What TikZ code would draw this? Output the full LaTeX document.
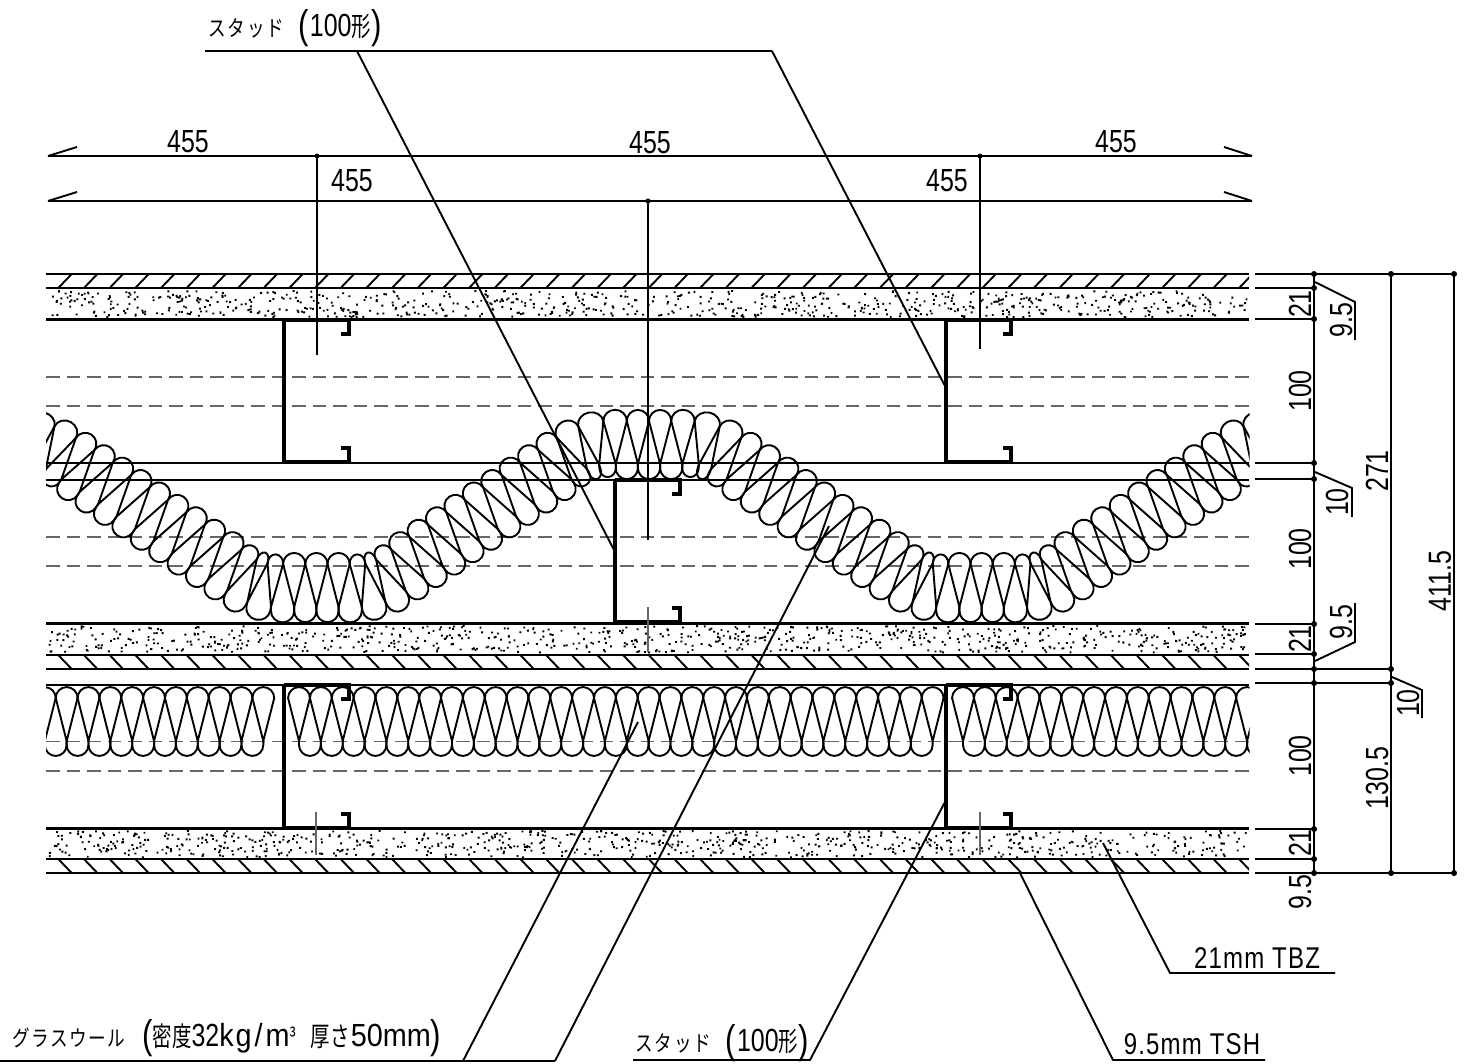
\documentclass[tikz,border=0pt]{standalone}
\usepackage{fontspec}
\newfontfamily\latf[FakeStretch=0.78]{Liberation Sans}
\newfontfamily\latw[FakeStretch=0.8,LetterSpace=4]{Liberation Sans}
\newfontfamily\latv[FakeStretch=0.9]{Liberation Sans}
\newfontfamily\jpf[FakeStretch=0.8]{Noto Sans CJK JP}
\newfontfamily\jpn[FakeStretch=0.72]{Noto Sans CJK JP}
\usetikzlibrary{calc}
\newcommand\kt[1]{{\jpf\fontsize{22}{22}\selectfont #1}}
\newcommand\kj[1]{{\jpn\fontsize{27}{27}\selectfont #1}}
\newcommand\pn[1]{{\latf\fontsize{40}{40}\selectfont\raisebox{-2pt}{#1}}}
\def\aT{24}\def\aB{19}
\newcommand\gv[1]{\csname #1\endcsname}
% #1 #2 start, #3 #4 end, #5 +1 for the upper side, -1 for the lower side,
% #6 offset, #7 side flare, #8 side rise, #9 apex height (control length = \lk)
\newcommand\lobe[9]{%
 \pgfmathsetmacro\Ldx{#3-(#1)}\pgfmathsetmacro\Ldy{#4-(#2)}
 \pgfmathsetmacro\Ll{sqrt(\Ldx*\Ldx+\Ldy*\Ldy)}
 \pgfmathsetmacro\sc{\Ll/21.85}
 \pgfmathsetmacro\sh{max(min(\sc,1.03),0.85)}
 \pgfmathsetmacro\ux{\Ldx/\Ll}\pgfmathsetmacro\uy{\Ldy/\Ll}
 \pgfmathsetmacro\nx{#5*\uy}\pgfmathsetmacro\ny{-#5*\ux}
 \pgfmathsetmacro\Ax{#1+\sh*#6*\nx}\pgfmathsetmacro\Ay{#2+\sh*#6*\ny}
 \pgfmathsetmacro\Bx{#3+\sh*#6*\nx}\pgfmathsetmacro\By{#4+\sh*#6*\ny}
 \pgfmathsetmacro\Mx{(#1+#3)/2+\sh*#9*\nx}\pgfmathsetmacro\My{(#2+#4)/2+\sh*#9*\ny}
 \pgfmathsetmacro\cax{\Ax+\sh*#8*\nx}\pgfmathsetmacro\cay{\Ay+\sh*#8*\ny}
 \pgfmathsetmacro\cbx{\Mx-\sc*\lk*\ux}\pgfmathsetmacro\cby{\My-\sc*\lk*\uy}
 \pgfmathsetmacro\ccx{\Mx+\sc*\lk*\ux}\pgfmathsetmacro\ccy{\My+\sc*\lk*\uy}
 \pgfmathsetmacro\cdx{\Bx+\sh*#8*\nx}\pgfmathsetmacro\cdy{\By+\sh*#8*\ny}
 \draw[batt] (#1,#2) -- (\Ax,\Ay) .. controls (\cax,\cay) and (\cbx,\cby) .. (\Mx,\My)
   .. controls (\ccx,\ccy) and (\cdx,\cdy) .. (\Bx,\By) -- (#3,#4);
}
\newcommand\toplobe[4]{\def\lk{6.03}\lobe{#1}{#2}{#3}{#4}{1}{0}{0}{6.03}{10.925}}
\newcommand\botlobe[4]{\def\lk{6.03}\lobe{#1}{#2}{#3}{#4}{-1}{4}{0}{6.03}{14.925}}
\newcommand\wavehalf{%
 \foreach \k [evaluate=\k as \a using int(\k+1), evaluate=\k as \b using int(\k+2), evaluate=\k as \c using int(\k+3)] in {0,2,...,66}{
  \pgfmathsetmacro\tax{\gv{cx\k}+\aT*\gv{sn\k}}
  \pgfmathsetmacro\tay{\gv{cy\k}-\aT*\gv{cn\k}}
  \pgfmathsetmacro\tbx{\gv{cx\b}+\aT*\gv{sn\b}}
  \pgfmathsetmacro\tby{\gv{cy\b}-\aT*\gv{cn\b}}
  \pgfmathsetmacro\bax{\gv{cx\a}-\aB*\gv{sn\a}}
  \pgfmathsetmacro\bay{\gv{cy\a}+\aB*\gv{cn\a}}
  \pgfmathsetmacro\bbx{\gv{cx\c}-\aB*\gv{sn\c}}
  \pgfmathsetmacro\bby{\gv{cy\c}+\aB*\gv{cn\c}}
  \draw[batt] (\tax,\tay) -- (\bax,\bay) -- (\tbx,\tby);
  \toplobe{\tax}{\tay}{\tbx}{\tby}
  \botlobe{\bax}{\bay}{\bbx}{\bby}
 }}
\newcommand\battrow[3]{% first tip x, step, last index
 \foreach \j in {0,...,#3}{
  \pgfmathsetmacro\tx{#1+#2*\j}
  \pgfmathsetmacro\lx{\tx-10.925}\pgfmathsetmacro\rx{\tx+10.925}
  \draw[batt] (\lx,698) -- (\tx,741) -- (\rx,698);
  \toplobe{\lx}{698}{\rx}{698}
  \ifnum\j<#3
   \pgfmathsetmacro\wnx{\tx+#2}
   \pgfmathsetmacro\wlo{min(\tx,\wnx)}\pgfmathsetmacro\whi{max(\tx,\wnx)}
   \botlobe{\wlo}{741}{\whi}{741}
  \fi
 }}
\newcommand\studdown[3]{% web x, top y, bottom y
 \draw[stud] (#1,#2) -- (#1,#3);
 \draw[stud] (#1,#2) -- ({#1+65},#2) -- ({#1+65},{#2+14}) -- ({#1+57},{#2+14});
 \draw[stud] (#1,#3) -- ({#1+65},#3) -- ({#1+65},{#3-14}) -- ({#1+57},{#3-14});
}
\tikzset{
 thin line/.style={line width=1.9pt,black},
 batt/.style={line width=1.9pt,black,line cap=round,line join=round},
 stud/.style={line width=3.2pt,black,line join=miter},
 heavy/.style={line width=3pt,black},
 layer/.style={line width=1.9pt,black},
 hid/.style={line width=1.6pt,black!60,dash pattern=on 13.5pt off 7pt},
 ghost/.style={line width=1.2pt,black!60},
 lab/.style={font=\latf\fontsize{32}{32}\selectfont,inner sep=0pt,text=black},
 labw/.style={font=\latw\fontsize{30}{30}\selectfont,inner sep=0pt,text=black},
 rlab/.style={lab,rotate=90},
 dimdot/.style={circle,fill=black,inner sep=0pt,minimum size=6pt},
 hatchline/.style={line width=1.9pt,black},
}
\begin{document}
\begin{tikzpicture}[x=1pt,y=-1pt,
 declare function={
  thr(\u)=(\u<3.65)?0:((\u<7.65)?34*(\u-3.65)/4:((\u<27.35)?34:((\u<31.35)?34*(31.35-\u)/4:0)));
  head(\u)=(\u<=35)?thr(\u):-thr(70-\u);
  stp(\u)=(\u<3.65)?11.1:((\u<7.65)?9.3:((\u<27.35)?11.1:((\u<31.35)?9.3:11.1)));
  wstp(\u)=(\u<=35)?stp(\u):stp(70-\u);
 }]
\useasboundingbox (0,0) rectangle (1471,1063);
\fill[white] (0,0) rectangle (1471,1063);
% stipple
\pgfmathsetseed{4711}
\foreach \yy in {290,625,830}{
 \fill[black] \foreach \i in {1,...,760}{ ({48+1198*rnd},{\yy+26.5*rnd}) rectangle ++(1.9,1.9) };
}
% hatching
\begin{scope}
\clip (46,270) rectangle (1249,880);
\foreach \i in {0,...,46}{
 \pgfmathsetmacro\hx{58.3+25.67*\i}
 \draw[hatchline] (\hx,288) -- ({\hx+13.4},274);
 \draw[hatchline] (\hx,655) -- ({\hx+13.4},669);
 \draw[hatchline] (\hx,859) -- ({\hx+13.4},873);
}
\end{scope}
% hidden lines
\foreach \yy in {377,406,537,566,741.5,770.7}{
 \draw[hid] (46,\yy) -- (1249,\yy);
}
% wall layers
\foreach \yy in {274,288,463,480,655,669,685,859,873}{
 \draw[layer] (46,\yy) -- (1249,\yy);
}
\foreach \yy in {319,623,828.5}{
 \draw[heavy] (46,\yy) -- (1249,\yy);
}
% studs
\studdown{284}{320}{462}
\studdown{946}{320}{462}
\studdown{615}{480}{622}
\studdown{284}{685}{828}
\studdown{946}{685}{828}
% glass wool
\begin{scope}
\clip (46,400) rectangle (1249.5,770);
\battrow{263.3}{-21.85}{10}
\battrow{299}{21.85}{29}
\battrow{963}{21.85}{14}
\def\wx{649}\def\wy{445}
\foreach \k in {0,...,71}{
 \pgfmathsetmacro\th{head(\k)}
 \pgfmathsetmacro\sn{sin(\th)}
 \pgfmathsetmacro\cn{cos(\th)}
 \expandafter\xdef\csname cx\k\endcsname{\wx}
 \expandafter\xdef\csname cy\k\endcsname{\wy}
 \expandafter\xdef\csname sn\k\endcsname{\sn}
 \expandafter\xdef\csname cn\k\endcsname{\cn}
 \pgfmathsetmacro\thm{head(\k+0.5)}
 \pgfmathsetmacro\hsv{wstp(\k+0.5)}
 \pgfmathsetmacro\nwx{\wx+\hsv*cos(\thm)}
 \pgfmathsetmacro\nwy{\wy+\hsv*sin(\thm)}
 \xdef\wx{\nwx}\xdef\wy{\nwy}
}
\wavehalf
\begin{scope}[shift={(1298,0)},xscale=-1]
\wavehalf
\end{scope}
\pgfmathsetmacro\mbax{\gv{cx1}-\aB*\gv{sn1}}
\pgfmathsetmacro\mbay{\gv{cy1}+\aB*\gv{cn1}}
\pgfmathsetmacro\mbbx{1298-\mbax}
\botlobe{\mbbx}{\mbay}{\mbax}{\mbay}
\end{scope}
% top dimensions
\coordinate (d1l) at (48,156); \coordinate (d1r) at (1252,156);
\coordinate (d2l) at (48,201); \coordinate (d2r) at (1252,201);
\draw[thin line] (d1l) -- (d1r);
\draw[thin line] (d2l) -- (d2r);
\draw[thin line] (d1l) -- (77,147);
\draw[thin line] (d1r) -- (1224,147);
\draw[thin line] (d2l) -- (77,192);
\draw[thin line] (d2r) -- (1224,192);
\node[dimdot,minimum size=5pt] (a1) at (317,156) {};
\node[dimdot,minimum size=5pt] (a2) at (980,156) {};
\node[dimdot,minimum size=5pt] (a3) at (648,201) {};
\coordinate (a1e) at (317,355);
\coordinate (a2e) at (980,349);
\coordinate (a3e) at (648,540);
\draw[thin line] (a1.center) -- (a1e);
\draw[thin line] (a2.center) -- (a2e);
\draw[thin line] (a3.center) -- (a3e);
\draw[ghost] (648,607) -- (648,652);
\draw[ghost] (316,812) -- (316,855);
\draw[ghost] (980,812) -- (980,855);
\node[lab] (t1) at (188,142) {455};
\node[lab] (t2) at (650,143) {455};
\node[lab] (t3) at (1116,142) {455};
\node[lab] (t4) at (352,181) {455};
\node[lab] (t5) at (947,181) {455};
% right dimensions
\foreach \yy in {288,319,463,479,624,654,829,859}{
 \draw[thin line] (1255,\yy) -- (1314,\yy);
 \node[dimdot] at (1314,\yy) {};
}
\foreach \yy in {274,669,683,873}{
 \draw[thin line] (1255,\yy) -- (1391,\yy);
 \node[dimdot] at (1314,\yy) {};
 \node[dimdot] at (1391,\yy) {};
}
\draw[thin line] (1391,274) -- (1454,274);
\draw[thin line] (1391,873) -- (1454,873);
\node[dimdot] at (1454,274) {};
\node[dimdot] at (1454,873) {};
\draw[thin line] (1314,274) -- (1314,873);
\draw[thin line] (1391,274) -- (1391,873);
\draw[thin line] (1454,274) -- (1454,873);
\draw[thin line] (1315,282) -- (1355,302) -- (1355,340);
\draw[thin line] (1315,472) -- (1352,488) -- (1352,517);
\draw[thin line] (1315,661) -- (1355,642) -- (1355,603);
\draw[thin line] (1392,677) -- (1422,690) -- (1422,718);
\node[rlab] at (1300,304) {21};
\node[rlab] at (1300,391) {100};
\node[rlab] at (1300,549) {100};
\node[rlab] at (1300,639) {21};
\node[rlab] at (1300,756) {100};
\node[rlab] at (1300,843) {21};
\node[rlab] at (1300,892) {9.5};
\node[rlab] at (1341,320) {9.5};
\node[rlab] at (1337,502) {10};
\node[rlab] at (1341,622) {9.5};
\node[rlab] at (1408,703) {10};
\node[rlab] at (1377,471) {271};
\node[rlab] at (1377,778) {130.5};
\node[rlab] at (1440,581) {411.5};
% leaders
\coordinate (u1) at (205,51); \coordinate (u2) at (772,51); \coordinate (u3) at (357,51);
\draw[thin line] (u1) -- (u2);
\draw[thin line] (u3) -- (614,550);
\draw[thin line] (u2) -- (946,388);
\coordinate (v1) at (0,1061); \coordinate (v2) at (555,1061); \coordinate (v3) at (463,1061);
\draw[thin line] (v1) -- (v2);
\draw[thin line] (v3) -- (638,722);
\draw[thin line] (v2) -- (829,526);
\draw[thin line] (633,1060) -- (810,1060) -- (946,800);
\draw[thin line] (1265,1060) -- (1113,1060) -- (1020,873);
\draw[thin line] (1335,973) -- (1170,973) -- (1103,843);
\node[labw] at (1257,958) {21mm TBZ};
\node[labw] at (1192,1044) {9.5mm TSH};
\node[lab,anchor=west] at (208,28) {\kt{ス\hskip2pt タ\hskip2pt ッ\hskip2pt ド}\hskip14pt\pn{(}\hskip1pt 100\kj{形}\pn{)}};
\node[lab,anchor=west] at (635,1043) {\kt{ス\hskip2pt タ\hskip2pt ッ\hskip2pt ド}\hskip14pt\pn{(}\hskip1pt 100\kj{形}\pn{)}};
\node[lab,anchor=west] at (12,1038) {\kt{グ\hskip1.5pt ラ\hskip1.5pt ス\hskip1.5pt ウ\hskip1.5pt ー\hskip1.5pt ル}\hskip17pt\pn{(}\kj{密度}32{\latv k\hskip2pt g\hskip3pt /\hskip3pt m}\kt{³}\hskip14pt\kj{厚さ}\hskip1pt{\latv 50mm}\pn{)}};
\end{tikzpicture}
\end{document}
